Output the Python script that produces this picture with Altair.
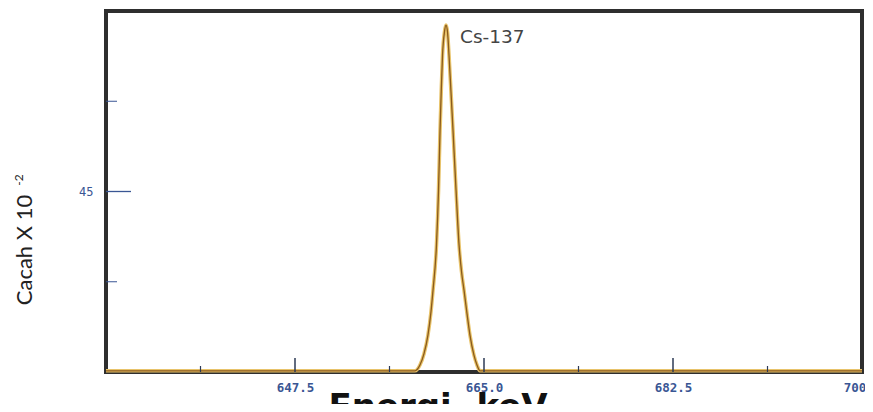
import altair as alt
import pandas as pd

# Spectrum (energy in keV, counts x 10^-2)
energy = [630.0, 640.0, 650.0, 655.0, 657.5, 658.61, 659.07, 659.44, 659.81, 660.09,
          660.28, 660.60, 660.79, 660.93, 661.04, 661.16, 661.34, 661.48, 661.62,
          661.76, 661.94, 662.13, 662.41, 662.69, 662.92, 663.15, 663.43, 663.70,
          664.07, 664.35, 664.63, 666.0, 675.0, 690.0, 700.0]
counts = [0.3, 0.3, 0.3, 0.3, 0.3, 0.3, 1.75, 4.5, 9.2, 15.0,
          20.4, 31.7, 45.4, 60.3, 70.0, 79.0, 84.8, 86.5, 84.8,
          79.0, 70.0, 60.3, 45.4, 31.7, 25.0, 20.4, 14.5, 9.2,
          4.2, 1.75, 0.3, 0.3, 0.3, 0.3, 0.3]

x_label_values = [647.5, 665.0, 682.5, 700.0]
x_major_ticks = [647.5, 665.0, 682.5]
x_minor_ticks = [638.75, 656.25, 673.75, 691.25]
y_label_values = [45]
y_major_ticks = [45]
y_minor_ticks = [22.5, 67.5]

peak_label = ["Cs-137"]
peak_energy = [661.48]
peak_counts = [86.5]

W, H = 756, 361
BLUE = "#3a5694"

spec_df = pd.DataFrame({"e": energy, "c": counts})
xmaj_df = pd.DataFrame({"e": x_major_ticks})
xmin_df = pd.DataFrame({"e": x_minor_ticks})
ymaj_df = pd.DataFrame({"c": y_major_ticks})
ymin_df = pd.DataFrame({"c": y_minor_ticks})
lab_df = pd.DataFrame({"e": peak_energy, "c": peak_counts, "t": peak_label})

xscale = alt.Scale(domain=[630, 700], nice=False, zero=False)
yscale = alt.Scale(domain=[0, 90], nice=False, zero=False)

xaxis = alt.Axis(values=x_label_values, format=".1f", domain=False, ticks=False, grid=False,
                 labelFont="DejaVu Sans Mono", labelFontWeight="bold", labelColor=BLUE,
                 labelFontSize=12.5, labelPadding=9, labelFlush=False, labelOverlap=False,
                 labelBound=False, title=None)
yaxis = alt.Axis(values=y_label_values, domain=False, ticks=False, grid=False,
                 labelFont="DejaVu Sans Mono", labelColor=BLUE, labelFontSize=12,
                 labelPadding=13, title=None)

base_under = alt.Chart(spec_df).mark_line(color="#e8c36a", strokeWidth=3.6, interpolate="monotone").encode(
    x=alt.X("e:Q", scale=xscale, axis=xaxis),
    y=alt.Y("c:Q", scale=yscale, axis=yaxis),
)
base_over = alt.Chart(spec_df).mark_line(color="#8a5a1c", strokeWidth=1.3, interpolate="monotone").encode(
    x=alt.X("e:Q", scale=xscale),
    y=alt.Y("c:Q", scale=yscale),
)

xmaj = alt.Chart(xmaj_df).mark_rule(color="#2d3a55", strokeWidth=1.5).encode(
    x=alt.X("e:Q", scale=xscale), y=alt.value(H), y2=alt.value(H - 14))
xmin = alt.Chart(xmin_df).mark_rule(color="#2d3a55", strokeWidth=1.2).encode(
    x=alt.X("e:Q", scale=xscale), y=alt.value(H), y2=alt.value(H - 6))
ymaj = alt.Chart(ymaj_df).mark_rule(color=BLUE, strokeWidth=1.3).encode(
    y=alt.Y("c:Q", scale=yscale), x=alt.value(0), x2=alt.value(25))
ymin = alt.Chart(ymin_df).mark_rule(color=BLUE, strokeWidth=1.0).encode(
    y=alt.Y("c:Q", scale=yscale), x=alt.value(0), x2=alt.value(11))

peak_text = alt.Chart(lab_df).mark_text(align="left", baseline="middle", dx=14, dy=12,
                                        font="DejaVu Sans", fontSize=18.5, color="#444444").encode(
    x=alt.X("e:Q", scale=xscale), y=alt.Y("c:Q", scale=yscale), text="t:N")

title_df = pd.DataFrame({"t": ["Cacah X 10"]})
sup_df = pd.DataFrame({"t": ["-2"]})
xt_df = pd.DataFrame({"t": ["Energi, keV"]})

ytitle = alt.Chart(title_df).mark_text(angle=270, align="center", baseline="middle",
                                        font="Lato", fontSize=22, color="#222222").encode(
    x=alt.value(-81), y=alt.value(239), text="t:N")
ysup = alt.Chart(sup_df).mark_text(angle=270, align="center", baseline="middle",
                                    font="Lato", fontSize=12, color="#222222").encode(
    x=alt.value(-87), y=alt.value(169), text="t:N")
xtitle = alt.Chart(xt_df).mark_text(align="center", baseline="alphabetic",
                                     font="DejaVu Sans", fontWeight="bold", fontSize=34,
                                     color="#111111").encode(
    x=alt.value(332), y=alt.value(407), text="t:N")

chart = alt.layer(base_under, base_over, xmaj, xmin, ymaj, ymin, peak_text, ytitle, ysup, xtitle).properties(
    width=W, height=H,
    autosize=alt.AutoSizeParams(type="none"),
    padding={"left": 98, "top": 3, "right": 3, "bottom": 32},
).configure(background="white", view=alt.ViewConfig(stroke="#2e2e2e", strokeWidth=4))

chart.save("out.html", embed_options={"renderer": "svg", "actions": False})
